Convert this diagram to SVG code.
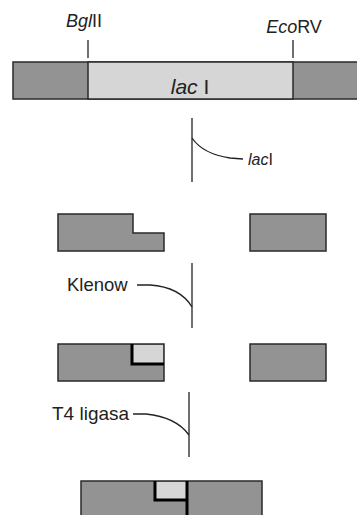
<svg xmlns="http://www.w3.org/2000/svg" width="357" height="515" viewBox="0 0 357 515">
<style>
.dk{fill:#939393;stroke:#2a2a2a;stroke-width:1.5}
.lt{fill:#d6d6d6;stroke:#2a2a2a;stroke-width:1.5}
.sq{fill:#d6d6d6;stroke:none}
.thick{fill:none;stroke:#000;stroke-width:3}
.ln{fill:none;stroke:#222;stroke-width:1.3}
text{font-family:"Liberation Sans",Arial,sans-serif;fill:#222}
.it{font-style:italic}
</style>
<rect width="357" height="515" fill="#fff"/>
<g id="gene">
<rect class="dk" x="13" y="62" width="350" height="37"/>
<rect class="lt" x="88" y="62" width="205" height="37"/>
<text x="190" y="94" font-size="21" text-anchor="middle"><tspan class="it">lac</tspan> I</text>
</g>
<g id="bglII">
<line class="ln" x1="88" y1="40" x2="88" y2="58"/>
<text x="84" y="27" font-size="18" text-anchor="middle"><tspan class="it">Bgl</tspan>II</text>
</g>
<g id="ecoRV">
<line class="ln" x1="293" y1="40" x2="293" y2="58"/>
<text x="294" y="33" font-size="18" text-anchor="middle"><tspan class="it">Eco</tspan>RV</text>
</g>
<g id="connectors">
<line class="ln" x1="192" y1="118" x2="192" y2="182"/>
<path class="ln" d="M192,138 Q203,154 230,158 L243,159"/>
<line class="ln" x1="192" y1="263" x2="192" y2="328"/>
<path class="ln" d="M137,285 L150,285 Q180,287 192,307"/>
<line class="ln" x1="189" y1="392" x2="189" y2="457"/>
<path class="ln" d="M133,414 L146,414 Q176,417 189,435"/>
</g>
<g id="lacI-label"><text x="248" y="165" font-size="16"><tspan class="it">lac</tspan>I</text></g>
<g id="klenow-label"><text x="67" y="291" font-size="18.5">Klenow</text></g>
<g id="t4-label"><text x="52" y="420" font-size="19">T4 ligasa</text></g>
<g id="frag1-left"><path class="dk" d="M58,214 H133 V233 H164 V251 H58 Z"/></g>
<g id="frag1-right"><rect class="dk" x="250" y="214" width="76" height="37"/></g>
<g id="frag2-left">
<rect class="dk" x="58" y="344" width="106" height="37"/>
<rect class="sq" x="132" y="345" width="31" height="19"/>
<path class="thick" d="M132,344 V364 H164"/>
</g>
<g id="frag2-right"><rect class="dk" x="250" y="344" width="76" height="37"/></g>
<g id="product">
<rect class="dk" x="81" y="481" width="181" height="40"/>
<rect class="sq" x="155" y="482" width="31" height="18"/>
<path class="thick" d="M155,481 V500 H187"/>
<line class="thick" x1="187" y1="481" x2="187" y2="516"/>
</g>
</svg>
